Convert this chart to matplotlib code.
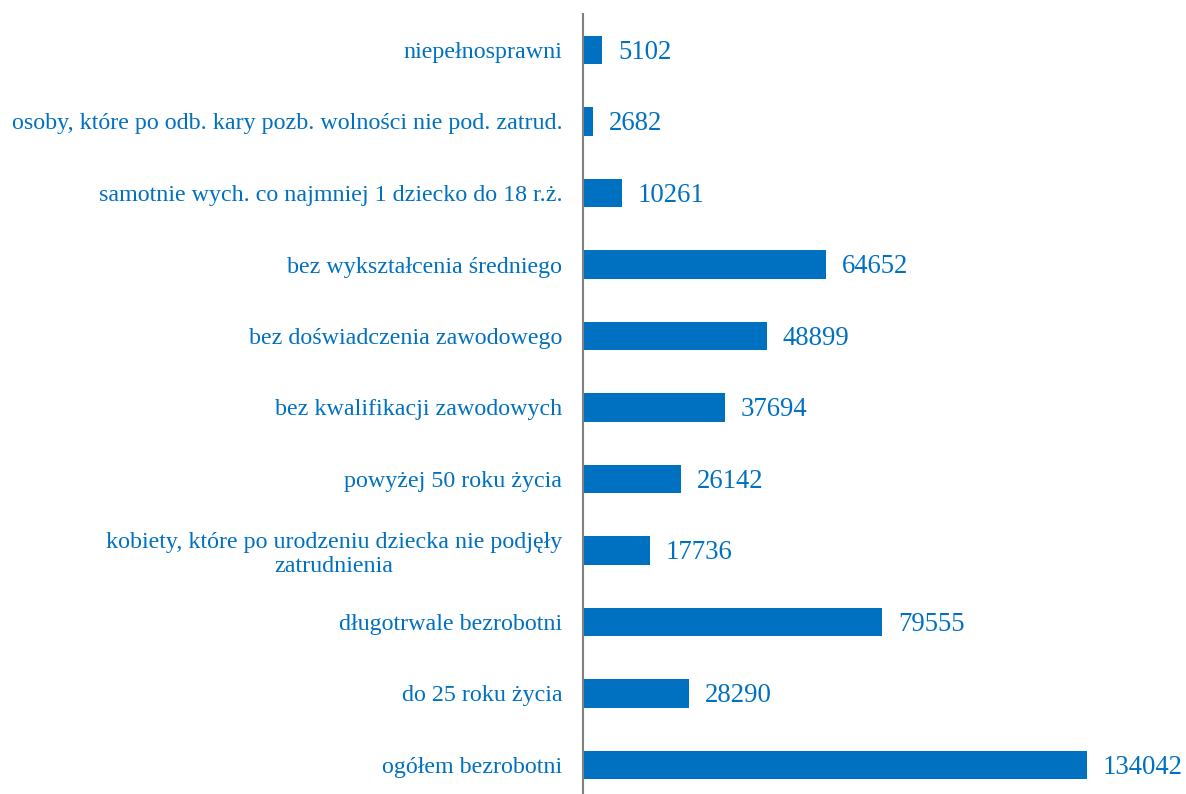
import matplotlib
matplotlib.use("Agg")
import matplotlib.pyplot as plt

categories = [
    "ogółem bezrobotni",
    "do 25 roku życia",
    "długotrwale bezrobotni",
    "kobiety, które po urodzeniu dziecka nie podjęły\nzatrudnienia",
    "powyżej 50 roku życia",
    "bez kwalifikacji zawodowych",
    "bez doświadczenia zawodowego",
    "bez wykształcenia średniego",
    "samotnie wych. co najmniej 1 dziecko do 18 r.ż.",
    "osoby, które po odb. kary pozb. wolności nie pod. zatrud.",
    "niepełnosprawni",
]
values = [134042, 28290, 79555, 17736, 26142, 37694, 48899, 64652, 10261, 2682, 5102]

BLUE = "#0070C0"
plt.rcParams['font.family'] = ['Liberation Serif', 'DejaVu Serif']

W, H = 1186, 794
fig = plt.figure(figsize=(W/100, H/100), dpi=100)
left_px, right_px = 583, 1186
top_px, bot_px = 14.25, 800.75
ax = fig.add_axes([left_px/W, 1 - bot_px/H, (right_px-left_px)/W, (bot_px-top_px)/H])

y = list(range(len(categories)))
bars = ax.barh(y, values, height=0.4, color=BLUE)
ax.set_ylim(-0.5, len(categories) - 0.5)
scale = (1087 - 583) / 134042
ax.set_xlim(0, (right_px - left_px) / scale)

for yi, v in zip(y, values):
    ax.annotate(str(v), xy=(v, yi), xytext=(11.5, -1.5), textcoords="offset points",
                ha="left", va="center", fontsize=19.3, color=BLUE)

ax.set_yticks(y)
ax.set_yticklabels(categories, fontsize=17.3, color=BLUE, multialignment="center",
                   linespacing=1.2)
ax.tick_params(axis="y", length=0, pad=15)
ax.set_xticks([])
for s in ["top", "right", "bottom"]:
    ax.spines[s].set_visible(False)
ax.spines["left"].set_color("#808080")
ax.spines["left"].set_linewidth(1.5)

fig.savefig("out.png", dpi=100)
